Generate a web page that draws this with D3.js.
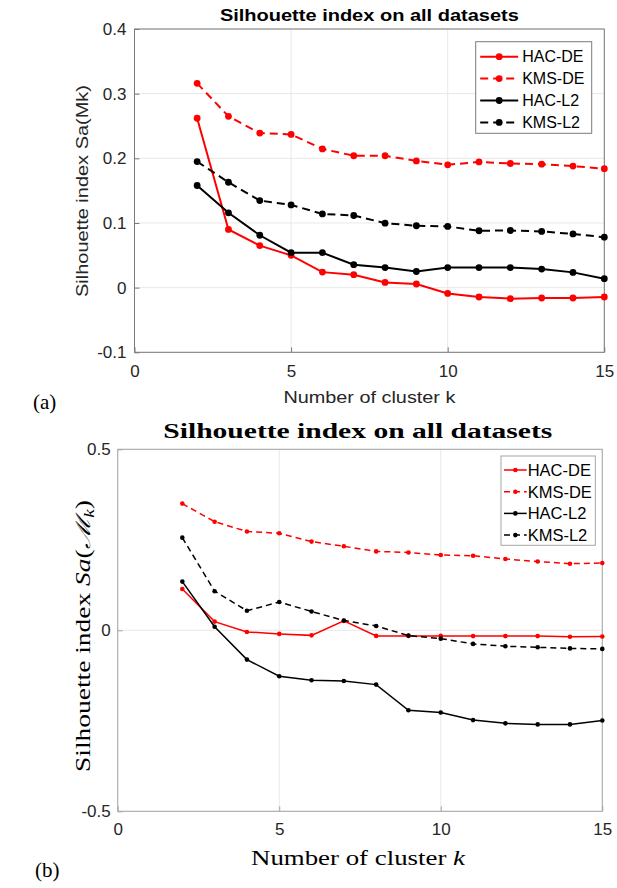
<!DOCTYPE html>
<html>
<head>
<meta charset="utf-8">
<script src="https://cdn.jsdelivr.net/npm/d3@7"></script>
<style>
  body { margin: 0; background: #fff; }
  svg { display: block; }
</style>
</head>
<body>
<svg id="chart" width="617" height="888"></svg>
<script>
// number of clusters
const ks = [2, 3, 4, 5, 6, 7, 8, 9, 10, 11, 12, 13, 14, 15];
const seriesNames = ['HAC-DE', 'KMS-DE', 'HAC-L2', 'KMS-L2'];

// panel (a)
const hacDE_a = [0.262, 0.090, 0.065, 0.050, 0.024, 0.020, 0.008, 0.0056, -0.009, -0.0145, -0.017, -0.016, -0.016, -0.0145];
const kmsDE_a = [0.316, 0.265, 0.239, 0.237, 0.2145, 0.204, 0.204, 0.196, 0.190, 0.1945, 0.192, 0.191, 0.188, 0.184];
const hacL2_a = [0.158, 0.1157, 0.081, 0.054, 0.054, 0.0355, 0.031, 0.025, 0.031, 0.031, 0.031, 0.0287, 0.0236, 0.0139];
const kmsL2_a = [0.195, 0.163, 0.1347, 0.128, 0.114, 0.1116, 0.0997, 0.0957, 0.0946, 0.088, 0.0884, 0.087, 0.083, 0.078];

// panel (b)
const hacDE_b = [0.114, 0.024, -0.0045, -0.010, -0.014, 0.026, -0.0155, -0.0155, -0.0155, -0.016, -0.016, -0.016, -0.018, -0.017];
const kmsDE_b = [0.350, 0.300, 0.273, 0.268, 0.245, 0.232, 0.218, 0.215, 0.208, 0.206, 0.197, 0.190, 0.184, 0.186];
const hacL2_b = [0.1345, 0.010, -0.081, -0.127, -0.138, -0.140, -0.150, -0.221, -0.227, -0.248, -0.257, -0.260, -0.260, -0.249];
const kmsL2_b = [0.256, 0.108, 0.054, 0.078, 0.052, 0.027, 0.012, -0.0146, -0.023, -0.0376, -0.044, -0.047, -0.050, -0.0514];

// ticks
const xTicks = [0, 5, 10, 15];
const yTicks_a = [-0.1, 0, 0.1, 0.2, 0.3, 0.4];
const yTickLabels_a = ['-0.1', '0', '0.1', '0.2', '0.3', '0.4'];
const yTicks_b = [-0.5, 0, 0.5];
const yTickLabels_b = ['-0.5', '0', '0.5'];

const sans = '"Liberation Sans", Arial, sans-serif';
const serif = '"Liberation Serif", "Times New Roman", serif';

const svg = d3.select('#chart');

function drawPanel(p) {
  const x = d3.scaleLinear().domain([0, 15]).range([p.left, p.right]);
  const y = d3.scaleLinear().domain(p.yDomain).range([p.bottom, p.top]);
  const g = svg.append('g');

  // grid
  g.selectAll('.gx').data(xTicks).enter().append('line')
    .attr('x1', d => x(d)).attr('x2', d => x(d))
    .attr('y1', p.top).attr('y2', p.bottom)
    .attr('stroke', '#e8e8e8').attr('stroke-width', 1);
  g.selectAll('.gy').data(p.yTicks).enter().append('line')
    .attr('x1', p.left).attr('x2', p.right)
    .attr('y1', d => y(d)).attr('y2', d => y(d))
    .attr('stroke', '#e8e8e8').attr('stroke-width', 1);

  // axes (inward ticks like matlab)
  const ax = g.append('g').attr('transform', 'translate(0,' + p.bottom + ')')
    .call(d3.axisBottom(x).tickValues(xTicks).tickSize(-5).tickPadding(p.xPad).tickFormat(d3.format('d')));
  const ay = g.append('g').attr('transform', 'translate(' + p.left + ',0)')
    .call(d3.axisLeft(y).tickValues(p.yTicks).tickSize(-5).tickPadding(p.yPad)
      .tickFormat((d, i) => p.yTickLabels[i]));
  [ax, ay].forEach(a => {
    a.select('.domain').remove();
    a.selectAll('line').attr('stroke', p.axisColor);
    a.selectAll('text').attr('fill', '#262626').style('font-family', sans).style('font-size', p.tickSize + 'px');
  });
  ax.selectAll('text').attr('dy', '0.71em');

  // box
  g.append('rect')
    .attr('x', p.left).attr('y', p.top)
    .attr('width', p.right - p.left).attr('height', p.bottom - p.top)
    .attr('fill', 'none').attr('stroke', p.axisColor).attr('stroke-width', 1);

  // series
  const line = d3.line().x((d, i) => x(ks[i])).y(d => y(d));
  p.series.forEach((s, si) => {
    const sg = g.append('g');
    sg.append('path').datum(s.values)
      .attr('d', line)
      .attr('fill', 'none')
      .attr('stroke', s.color)
      .attr('stroke-width', p.lineWidth)
      .attr('stroke-dasharray', s.dashed ? p.dash : null);
    sg.selectAll('circle').data(s.values).enter().append('circle')
      .attr('cx', (d, i) => x(ks[i])).attr('cy', d => y(d))
      .attr('r', p.markerR).attr('fill', s.color);
  });

  // legend
  const lg = g.append('g');
  lg.append('rect')
    .attr('x', p.legend.x).attr('y', p.legend.y)
    .attr('width', p.legend.w).attr('height', p.legend.h)
    .attr('fill', '#fff').attr('stroke', p.axisColor).attr('stroke-width', 1);
  p.series.forEach((s, si) => {
    const yy = p.legend.y + p.legend.rowStart + si * p.legend.rowStep;
    lg.append('line')
      .attr('x1', p.legend.x + p.legend.lineX0).attr('x2', p.legend.x + p.legend.lineX1)
      .attr('y1', yy).attr('y2', yy)
      .attr('stroke', s.color).attr('stroke-width', p.lineWidth)
      .attr('stroke-dasharray', s.dashed ? p.dash : null);
    lg.append('circle')
      .attr('cx', p.legend.x + (p.legend.lineX0 + p.legend.lineX1) / 2).attr('cy', yy)
      .attr('r', p.markerR).attr('fill', s.color);
    lg.append('text')
      .attr('x', p.legend.x + p.legend.textX).attr('y', yy)
      .attr('dy', '0.36em')
      .style('font-family', sans).style('font-size', p.legend.font + 'px')
      .attr('fill', '#000')
      .text(seriesNames[si]);
  });

  return { x, y, g };
}

// ---- panel (a) ----
const A = drawPanel({
  left: 134.5, right: 604.3, top: 29, bottom: 352.3,
  yDomain: [-0.1, 0.4], yTicks: yTicks_a, yTickLabels: yTickLabels_a,
  axisColor: '#7a7a7a', tickSize: 17, xPad: 13, yPad: 8,
  lineWidth: 2, markerR: 3.4, dash: '8,5',
  series: [
    { values: hacDE_a, color: '#ff0000', dashed: false },
    { values: kmsDE_a, color: '#ff0000', dashed: true },
    { values: hacL2_a, color: '#000000', dashed: false },
    { values: kmsL2_a, color: '#000000', dashed: true }
  ],
  legend: { x: 475.7, y: 41.7, w: 116, h: 91.6, rowStart: 15, rowStep: 21.9,
            lineX0: 4.5, lineX1: 42.5, textX: 46.5, font: 16 }
});

A.g.append('text')
  .attr('x', 369.4).attr('y', 20.5).attr('text-anchor', 'middle')
  .style('font-family', sans).style('font-size', '17px').style('font-weight', 'bold')
  .attr('textLength', 299).attr('lengthAdjust', 'spacingAndGlyphs')
  .text('Silhouette index on all datasets');
A.g.append('text')
  .attr('x', 369.4).attr('y', 402.5).attr('text-anchor', 'middle')
  .style('font-family', sans).style('font-size', '17px').attr('fill', '#262626')
  .attr('textLength', 172).attr('lengthAdjust', 'spacingAndGlyphs')
  .text('Number of cluster k');
A.g.append('text')
  .attr('transform', 'translate(88,191) rotate(-90)')
  .attr('text-anchor', 'middle')
  .style('font-family', sans).style('font-size', '17px').attr('fill', '#262626')
  .attr('textLength', 212).attr('lengthAdjust', 'spacingAndGlyphs')
  .text('Silhouette index Sa(Mk)');
svg.append('text')
  .attr('x', 33).attr('y', 409)
  .style('font-family', serif).style('font-size', '21px')
  .text('(a)');

// ---- panel (b) ----
const B = drawPanel({
  left: 117.7, right: 602.3, top: 449.3, bottom: 811.3,
  yDomain: [-0.5, 0.5], yTicks: yTicks_b, yTickLabels: yTickLabels_b,
  axisColor: '#a6a6a6', tickSize: 17, xPad: 12, yPad: 7,
  lineWidth: 1.5, markerR: 2.3, dash: '6,4',
  series: [
    { values: hacDE_b, color: '#ff0000', dashed: false },
    { values: kmsDE_b, color: '#ff0000', dashed: true },
    { values: hacL2_b, color: '#000000', dashed: false },
    { values: kmsL2_b, color: '#000000', dashed: true }
  ],
  legend: { x: 501, y: 456, w: 94.3, h: 89.3, rowStart: 14, rowStep: 21.7,
            lineX0: 3, lineX1: 25.7, textX: 26.7, font: 16.5 }
});

B.g.append('text')
  .attr('x', 357.8).attr('y', 438).attr('text-anchor', 'middle')
  .style('font-family', serif).style('font-size', '20px').style('font-weight', 'bold')
  .attr('textLength', 389).attr('lengthAdjust', 'spacingAndGlyphs')
  .text('Silhouette index on all datasets');
const bx = B.g.append('text')
  .attr('x', 358).attr('y', 865).attr('text-anchor', 'middle')
  .style('font-family', serif).style('font-size', '20px')
  .attr('textLength', 214).attr('lengthAdjust', 'spacingAndGlyphs');
bx.append('tspan').text('Number of cluster ');
bx.append('tspan').style('font-style', 'italic').text('k');
const by = B.g.append('text')
  .attr('transform', 'translate(90,636) rotate(-90)')
  .attr('text-anchor', 'middle')
  .style('font-family', serif).style('font-size', '20px')
  .attr('textLength', 272).attr('lengthAdjust', 'spacingAndGlyphs');
by.append('tspan').text('Silhouette index ');
by.append('tspan').style('font-style', 'italic').text('Sa');
by.append('tspan').text('(');
by.append('tspan').style('font-style', 'italic').text('\u2133');
by.append('tspan').style('font-style', 'italic').style('font-size', '14px').attr('dy', 4).text('k');
by.append('tspan').attr('dy', -4).text(')');
svg.append('text')
  .attr('x', 35).attr('y', 877)
  .style('font-family', serif).style('font-size', '21px')
  .text('(b)');
</script>
</body>
</html>
